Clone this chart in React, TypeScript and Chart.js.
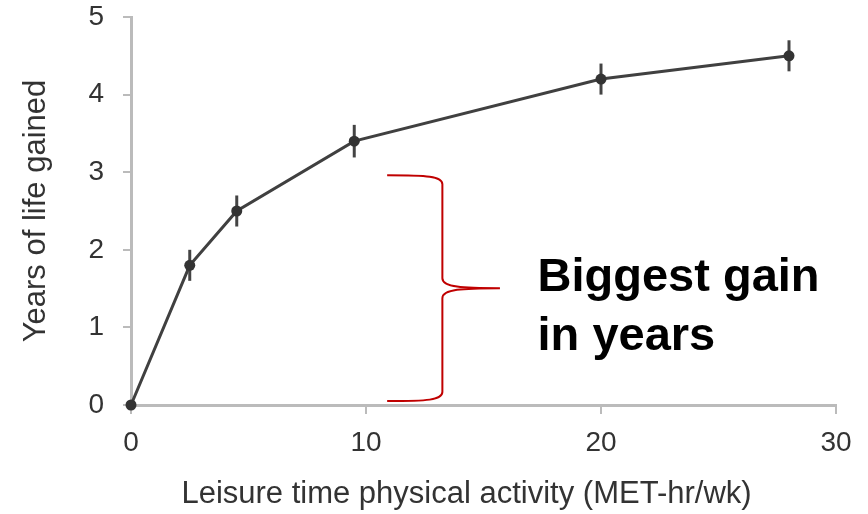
import React, { useEffect, useRef } from "react";
import { Chart, registerables } from "chart.js";

Chart.register(...registerables);

const activity = [0, 2.5, 4.5, 9.5, 20, 28];
const yearsGained = [0, 1.8, 2.5, 3.4, 4.2, 4.5];
const errorHalf = [0, 0.2, 0.2, 0.21, 0.2, 0.2];
const xTicks = [0, 10, 20, 30];
const yTicks = [0, 1, 2, 3, 4, 5];
const xTitle = "Leisure time physical activity (MET-hr/wk)";
const yTitle = "Years of life gained";
const noteLines = ["Biggest gain", "in years"];

const FONT = "'Liberation Sans', Arial, Helvetica, sans-serif";

const overlayPlugin = {
  id: "overlay",
  beforeDatasetsDraw(chart: any) {
    const ctx = chart.ctx;
    const xs = chart.scales.x;
    const ys = chart.scales.y;
    ctx.save();
    ctx.strokeStyle = "#444";
    ctx.lineWidth = 3;
    activity.forEach((xv, i) => {
      const e = errorHalf[i];
      if (!e) return;
      const px = xs.getPixelForValue(xv);
      ctx.beginPath();
      ctx.moveTo(px, ys.getPixelForValue(yearsGained[i] - e));
      ctx.lineTo(px, ys.getPixelForValue(yearsGained[i] + e));
      ctx.stroke();
    });
    ctx.restore();
  },
  afterDraw(chart: any) {
    const ctx = chart.ctx;
    const xs = chart.scales.x;
    const ys = chart.scales.y;
    const area = chart.chartArea;
    ctx.save();
    // x axis title
    ctx.fillStyle = "#333";
    ctx.font = `31px ${FONT}`;
    ctx.textAlign = "center";
    ctx.textBaseline = "middle";
    ctx.fillText(xTitle, (area.left + area.right) / 2 - 17, 494);

    // curly brace
    const top = ys.getPixelForValue(2.96);
    const bot = ys.getPixelForValue(0.05);
    const mid = (top + bot) / 2;
    const xl = xs.getPixelForValue(10.9);
    const xv = xs.getPixelForValue(13.25);
    const xt = xs.getPixelForValue(15.7);
    ctx.strokeStyle = "#c00000";
    ctx.lineWidth = 2;
    ctx.beginPath();
    ctx.moveTo(xl, top);
    ctx.bezierCurveTo(xl + 40, top, xv, top + 1, xv, top + 9);
    ctx.lineTo(xv, mid - 10);
    ctx.bezierCurveTo(xv, mid - 1, xv + 20, mid, xt, mid);
    ctx.bezierCurveTo(xv + 20, mid, xv, mid + 1, xv, mid + 10);
    ctx.lineTo(xv, bot - 9);
    ctx.bezierCurveTo(xv, bot - 1, xl + 40, bot, xl, bot);
    ctx.stroke();

    // note text
    ctx.fillStyle = "#000";
    ctx.font = `bold 47px ${FONT}`;
    ctx.textAlign = "left";
    ctx.textBaseline = "alphabetic";
    const tx = xs.getPixelForValue(17.3);
    ctx.fillText(noteLines[0], tx, 291);
    ctx.fillText(noteLines[1], tx, 350);
    ctx.restore();
  },
};

export default function App() {
  const ref = useRef<HTMLCanvasElement | null>(null);
  useEffect(() => {
    document.body.style.margin = "0";
    const canvas = ref.current;
    if (!canvas) return;
    const chart = new Chart(canvas, {
      type: "line",
      data: {
        datasets: [
          {
            data: activity.map((x, i) => ({ x, y: yearsGained[i] })),
            borderColor: "#404040",
            backgroundColor: "#333",
            borderWidth: 3,
            pointRadius: 5.5,
            pointBorderWidth: 0,
            pointBackgroundColor: "#333",
            tension: 0,
            clip: false as any,
          },
        ],
      },
      options: {
        responsive: false,
        animation: false,
        layout: { padding: { top: 17, right: 32, left: 0, bottom: 0 } },
        plugins: { legend: { display: false }, tooltip: { enabled: false } },
        scales: {
          x: {
            type: "linear",
            min: 0,
            max: 30,
            afterBuildTicks: (s: any) => {
              s.ticks = xTicks.map((v) => ({ value: v }));
            },
            afterFit: (s: any) => {
              s.height = 109;
              s.paddingLeft = 0;
              s.paddingRight = 0;
            },
            ticks: {
              color: "#333",
              font: { family: FONT, size: 28 },
              padding: 12,
              maxRotation: 0,
            },
            grid: {
              drawOnChartArea: false,
              drawTicks: true,
              tickLength: 9,
              tickColor: "#bbb",
              lineWidth: 2,
            },
            border: { color: "#bbb", width: 3 },
          },
          y: {
            type: "linear",
            min: 0,
            max: 5,
            afterBuildTicks: (s: any) => {
              s.ticks = yTicks.map((v) => ({ value: v }));
            },
            afterFit: (s: any) => {
              s.width = 131;
              s.paddingTop = 0;
              s.paddingBottom = 0;
            },
            ticks: {
              color: "#333",
              font: { family: FONT, size: 28 },
              padding: 19,
            },
            grid: {
              drawOnChartArea: false,
              drawTicks: true,
              tickLength: 8,
              tickColor: "#bbb",
              lineWidth: 2,
            },
            border: { color: "#bbb", width: 3 },
            title: {
              display: true,
              text: yTitle,
              color: "#333",
              font: { family: FONT, size: 31 },
              padding: { top: 18, bottom: 0 },
            },
          },
        },
      },
      plugins: [overlayPlugin],
    });
    return () => chart.destroy();
  }, []);
  return (
    <div style={{ width: 868, height: 514 }}>
      <canvas ref={ref} width={868} height={514} />
    </div>
  );
}
